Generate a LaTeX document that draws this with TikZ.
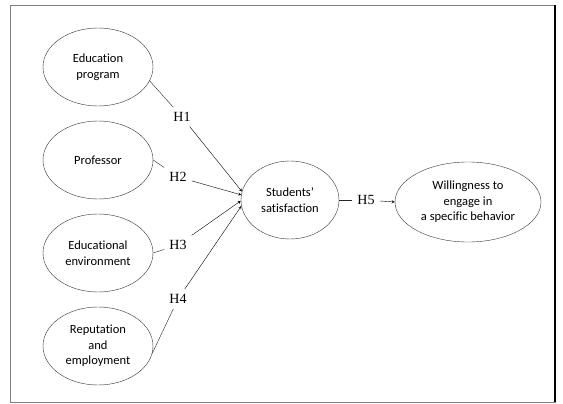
\documentclass[tikz,border=0pt]{standalone}
\usepackage{fontspec}
\setmainfont{Carlito}[Ligatures={TeX,NoCommon}]
\newfontfamily\hypfont{Liberation Serif}
\usetikzlibrary{shapes.geometric, arrows}
\tikzstyle{factor} = [ellipse, draw=black!80, thin, minimum width=110pt, minimum height=78pt, inner sep=0pt, align=center, font=\fontsize{12.5}{15.5}\selectfont]
\tikzstyle{hyp} = [inner sep=5pt, font=\hypfont\fontsize{14}{16}\selectfont]
\tikzstyle{link} = [thin, draw=black!85]
\tikzstyle{arrow} = [thin,->,>=stealth]

\begin{document}
\begin{tikzpicture}[node distance=93pt]
	\useasboundingbox (-98pt,67pt) rectangle (465pt,-337pt);
	\draw [gray] (-88pt,62pt) rectangle (457pt,-335pt);
	\draw [line width=1.5pt] (457pt,62pt) -- (457pt,-335pt);

	\node (edu) [factor] {Education\\program};
	\node (prof) [factor, below of=edu] {Professor};
	\node (env) [factor, below of=prof] {Educational\\environment};
	\node (rep) [factor, below of=env] {Reputation\\and\\employment};
	\node (sat) [factor, minimum width=98pt, right of=prof, xshift=99pt, yshift=-40pt] {Students'\\satisfaction};
	\node (will) [factor, minimum width=146pt, minimum height=80pt, right of=sat, xshift=85pt, yshift=-2pt] {Willingness to\\engage in\\a specific behavior};

	\node (h1) [hyp] at (84pt,-50pt) {H1};
	\node (h2) [hyp] at (80pt,-110pt) {H2};
	\node (h3) [hyp] at (80pt,-178pt) {H3};
	\node (h4) [hyp] at (80pt,-232pt) {H4};
	\node (h5) [hyp, node distance=76pt, right of=sat] {H5};

	\draw [link] (edu.-15) -- (h1);
	\draw [arrow] (h1) -- (sat.170);
	\draw [link] (prof.east) -- (h2);
	\draw [arrow] (h2) -- (sat.174);
	\draw [link] (env.east) -- (h3);
	\draw [arrow] (h3) -- (sat.181);
	\draw [link] (rep.-8) -- (h4);
	\draw [arrow] (h4) -- (sat.187);
	\draw [link] (sat) -- (h5);
	\draw [arrow] (h5) -- (will.west);
\end{tikzpicture}
\end{document}
